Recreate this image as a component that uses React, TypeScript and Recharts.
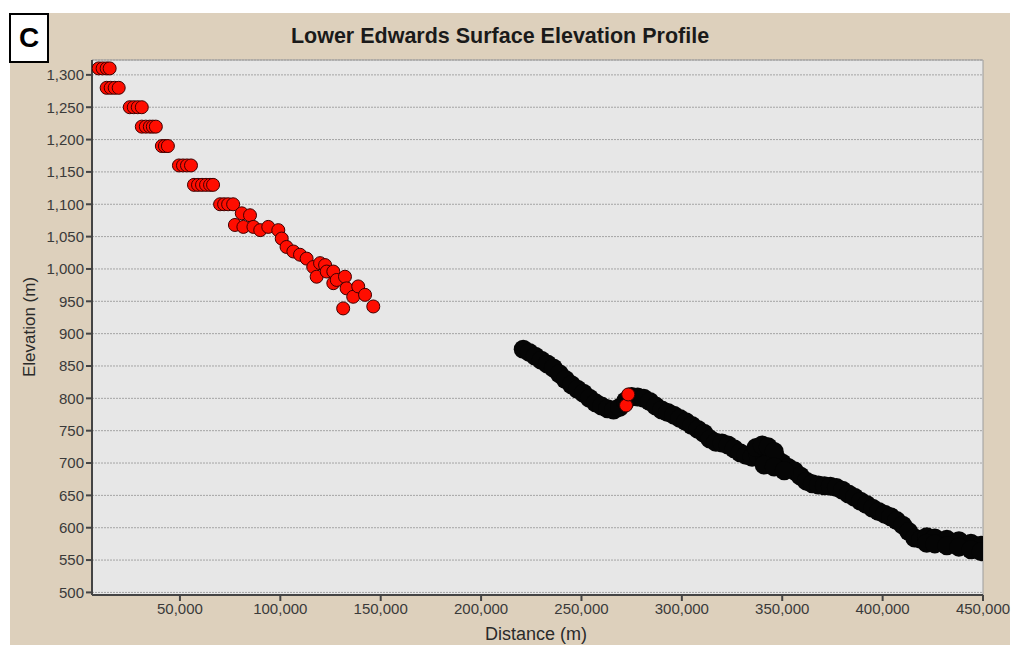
import { CartesianGrid, ReferenceArea, Scatter, ScatterChart, XAxis, YAxis } from "recharts";

// distance (m), elevation (m)
const redProfile: [number, number][] = [
  [9500, 1310], [11500, 1310], [13500, 1310], [15000, 1310],
  [13500, 1280], [15500, 1280], [17500, 1280], [19500, 1280],
  [25000, 1250], [27000, 1250], [29000, 1250], [31000, 1250],
  [31000, 1220], [33000, 1220], [35000, 1220], [36500, 1220], [38000, 1220],
  [41000, 1190], [42500, 1190], [44000, 1190],
  [49500, 1160], [51500, 1160], [53500, 1160], [55500, 1160],
  [57000, 1130], [59000, 1130], [61000, 1130], [63000, 1130], [65000, 1130], [66500, 1130],
  [70000, 1100], [72000, 1100], [74000, 1100], [76500, 1100],
  [77400, 1068], [80800, 1086], [81600, 1065], [84900, 1083], [86600, 1065],
  [90000, 1060], [94000, 1065], [99000, 1060], [100700, 1047], [103100, 1034],
  [106500, 1027], [109800, 1022], [113100, 1016], [116400, 1003], [118100, 988],
  [119800, 1009], [122300, 1006], [123100, 996], [126400, 996], [126400, 978],
  [128100, 983], [132200, 988], [133000, 970], [136300, 957], [138800, 973],
  [142200, 960], [131300, 939], [146300, 942],
  [272200, 789], [273300, 806],
];

const blackProfile: [number, number][] = [
  [221000, 876], [224000, 871], [227000, 865], [230000, 859], [233000, 853],
  [236000, 847], [239000, 838], [242000, 829], [245000, 821], [248000, 814],
  [251000, 808], [254000, 800], [257000, 793], [260000, 788], [263000, 784],
  [266000, 782], [269000, 786], [272000, 796], [275000, 803], [278000, 802],
  [281000, 800], [284000, 795], [287000, 788], [290000, 782], [293000, 778],
  [296000, 774], [299000, 769], [302000, 764], [305000, 758], [308000, 752],
  [311000, 746], [314000, 737], [317000, 732], [320000, 731], [323000, 728],
  [326000, 722], [329000, 716], [332000, 712], [335000, 709], [338000, 712],
  [341000, 712], [344000, 710], [347000, 708], [350000, 700], [353000, 693],
  [356000, 688], [359000, 680], [362000, 672], [365000, 668], [368000, 666],
  [371000, 665], [374000, 664], [377000, 662], [380000, 658], [383000, 652],
  [386000, 647], [389000, 641], [392000, 636], [395000, 630], [398000, 625],
  [401000, 621], [404000, 617], [407000, 611], [410000, 604], [413000, 594],
  [416000, 584], [419000, 582], [422000, 581], [425000, 580], [428000, 578],
  [431000, 577], [434000, 576], [437000, 575], [440000, 573], [443000, 571],
  [446000, 569], [449000, 568],
  // wider parts of the band
  [337000, 724], [340000, 728], [343000, 725], [346000, 718],
  [341000, 697], [346000, 694], [351000, 688],
  [422000, 586], [426000, 584], [432000, 582], [438000, 580], [444000, 576], [449000, 573],
  [422000, 576], [426000, 575], [432000, 572], [438000, 570], [444000, 566], [449000, 563],
];

const xTicks = [50000, 100000, 150000, 200000, 250000, 300000, 350000, 400000, 450000];
const yTicks = [500, 550, 600, 650, 700, 750, 800, 850, 900, 950, 1000, 1050, 1100, 1150, 1200, 1250, 1300];

const toPoints = (rows: [number, number][]) => rows.map(([distance, elevation]) => ({ distance, elevation }));

const fmt = (v: number) => v.toLocaleString("en-US");
const tickStyle = { fill: "#3a3a3a", fontSize: 15, fontFamily: "Liberation Sans, Arial, sans-serif" };
const labelFont = "Liberation Sans, Arial, sans-serif";

const blackDot = (p: any) => <circle cx={p.cx} cy={p.cy} r={9.5} fill="#050505" />;
const redDot = (p: any) => <circle cx={p.cx} cy={p.cy} r={6.5} fill="#ff0d00" stroke="#3d0000" strokeWidth={1} />;

export default function App() {
  return (
    <div style={{ position: "absolute", left: 0, top: 0, width: 1015, height: 645, background: "#fff", overflow: "hidden" }}>
      <div style={{ position: "absolute", left: 10, top: 13, width: 1000, height: 632, background: "#ddd0bc" }} />
      <div style={{ position: "absolute", left: 0, top: 0 }}>
        <ScatterChart width={1015} height={645} margin={{ top: 60, right: 32, bottom: 22, left: 28 }}>
          <CartesianGrid vertical={false} fill="#e7e7e7" stroke="#a4a4a4" strokeDasharray="2 1" />
          <XAxis
            type="number"
            dataKey="distance"
            domain={[6200, 450000]}
            ticks={xTicks}
            allowDataOverflow
            tickFormatter={fmt}
            tick={tickStyle}
            tickSize={6}
            height={28}
            stroke="#444"
            strokeWidth={2}
            interval={0}
          />
          <YAxis
            type="number"
            dataKey="elevation"
            domain={[496, 1323]}
            ticks={yTicks}
            allowDataOverflow
            tickFormatter={fmt}
            tick={tickStyle}
            tickSize={6}
            width={64}
            stroke="#444"
            strokeWidth={2}
            interval={0}
          />
          <ReferenceArea x1={6200} x2={450000} y1={496} y2={1323} fill="none" stroke="#9c9c9c" strokeWidth={1} ifOverflow="visible" />
          <Scatter data={toPoints(blackProfile)} shape={blackDot} isAnimationActive={false} />
          <Scatter data={toPoints(redProfile)} shape={redDot} isAnimationActive={false} />
        </ScatterChart>
      </div>
      <div style={{ position: "absolute", left: 9, top: 13, width: 36, height: 46, border: "2px solid #000", background: "#fff", fontFamily: labelFont, fontWeight: 700, fontSize: 28, display: "flex", alignItems: "center", justifyContent: "center" }}>
        C
      </div>
      <div style={{ position: "absolute", left: 500, top: 36, transform: "translate(-50%, -50%)", whiteSpace: "nowrap", fontFamily: labelFont, fontWeight: 700, fontSize: 21.5, color: "#1a1a1a" }}>
        Lower Edwards Surface Elevation Profile
      </div>
      <div style={{ position: "absolute", left: 30, top: 327, transform: "translate(-50%, -50%) rotate(-90deg)", whiteSpace: "nowrap", fontFamily: labelFont, fontSize: 17, color: "#2a2a2a" }}>
        Elevation (m)
      </div>
      <div style={{ position: "absolute", left: 536, top: 634, transform: "translate(-50%, -50%)", whiteSpace: "nowrap", fontFamily: labelFont, fontSize: 18, color: "#2a2a2a" }}>
        Distance (m)
      </div>
    </div>
  );
}
